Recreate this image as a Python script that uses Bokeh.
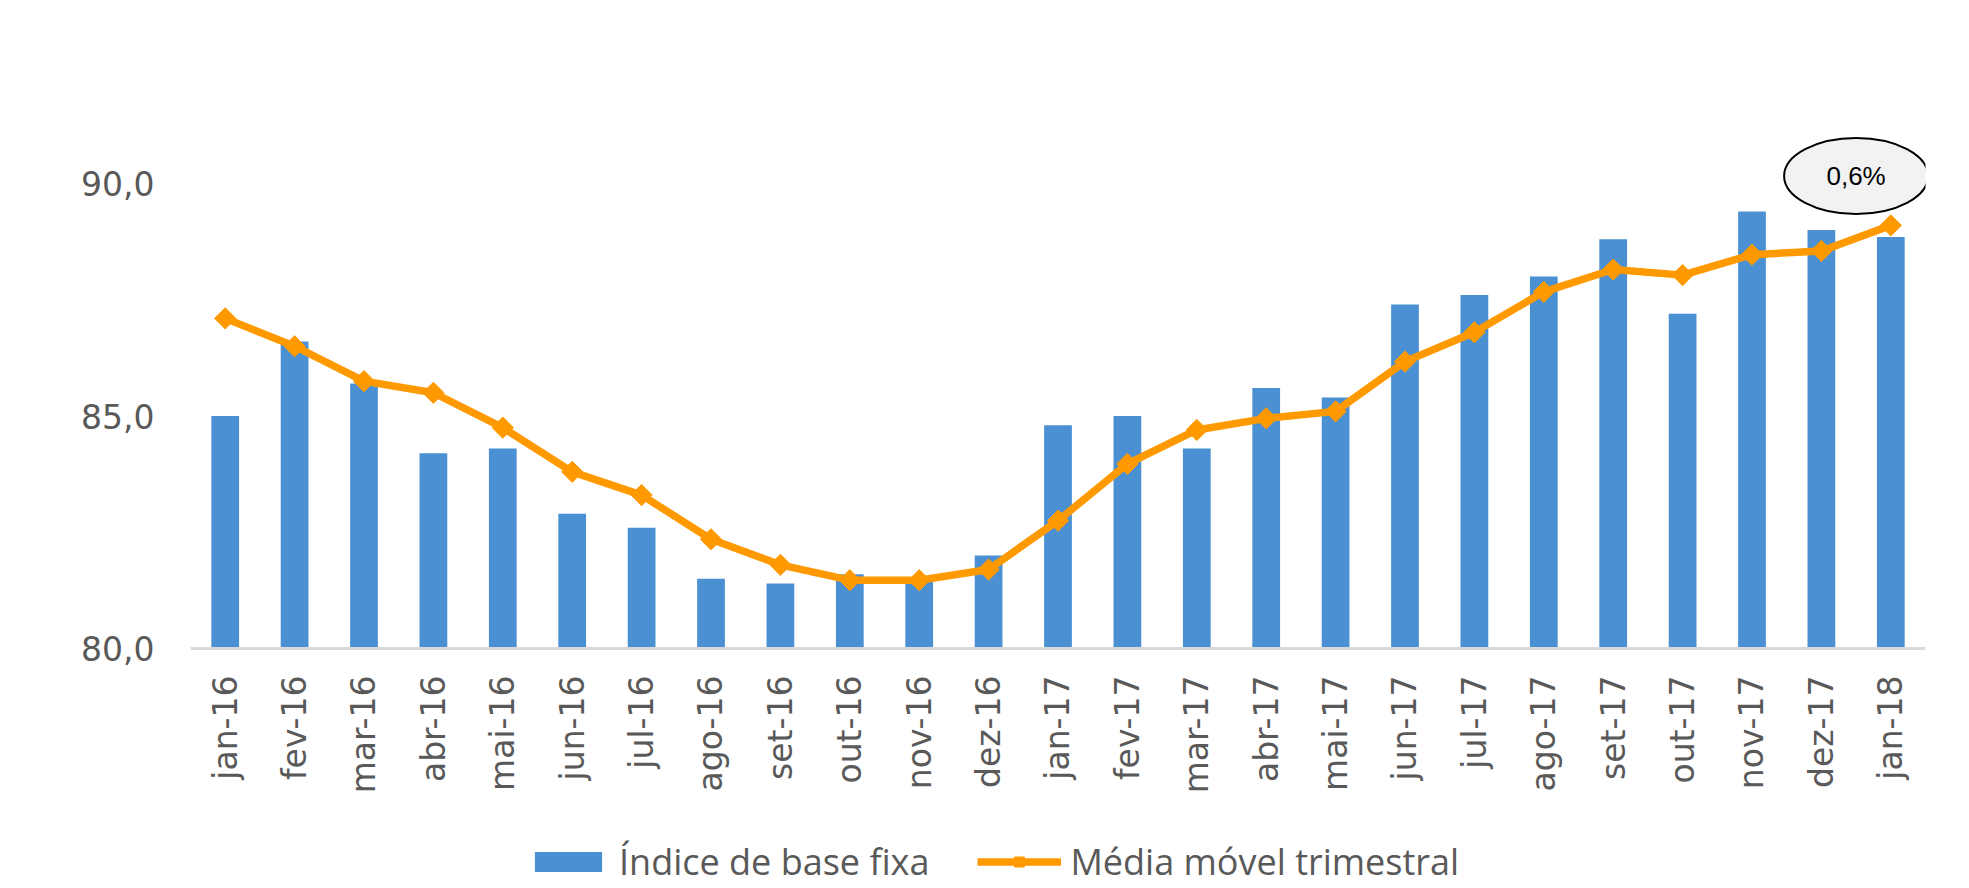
import numpy as np
from bokeh.plotting import figure
from bokeh.models import Range1d, FixedTicker, Legend, LegendItem
from bokeh.embed import file_html
from bokeh.resources import INLINE
from bokeh.core.properties import value

months = ["jan-16", "fev-16", "mar-16", "abr-16", "mai-16", "jun-16", "jul-16",
          "ago-16", "set-16", "out-16", "nov-16", "dez-16", "jan-17", "fev-17",
          "mar-17", "abr-17", "mai-17", "jun-17", "jul-17", "ago-17", "set-17",
          "out-17", "nov-17", "dez-17", "jan-18"]
index_values = [85.0, 86.6, 85.7, 84.2, 84.3, 82.9, 82.6, 81.5, 81.4, 81.6,
                81.5, 82.0, 84.8, 85.0, 84.3, 85.6, 85.4, 87.4, 87.6, 88.0,
                88.8, 87.2, 89.4, 89.0, 88.85]
moving_avg = [87.1, 86.5, 85.75, 85.5, 84.75, 83.8, 83.3, 82.35, 81.8, 81.47,
              81.47, 81.7, 82.75, 83.97, 84.7, 84.95, 85.1, 86.17, 86.8, 87.67,
              88.15, 88.03, 88.47, 88.55, 89.1]
y_ticks = [80, 85, 90]
y_tick_labels = ["80,0", "85,0", "90,0"]
series_names = ["Índice de base fixa", "Média móvel trimestral"]
bubble_text = "0,6%"
bubble_x = 24.0
bubble_y = 90.16
baseline = 80

x = np.arange(len(months)) + 0.5

p = figure(width=1969, height=888, output_backend="svg", toolbar_location=None,
           x_range=Range1d(0, len(months)), y_range=Range1d(74.84, 92),
           min_border_left=190, min_border_right=44, min_border_top=90,
           min_border_bottom=0)
p.outline_line_color = None
p.xgrid.visible = False
p.ygrid.visible = False
p.background_fill_color = "white"
p.border_fill_color = "white"

# x axis, drawn at the 80 baseline
p.xaxis.fixed_location = baseline
p.xaxis.ticker = FixedTicker(ticks=[float(v) for v in x])
p.xaxis.major_label_overrides = {float(v): m for v, m in zip(x, months)}
p.xaxis.axis_line_color = "#d9d9d9"
p.xaxis.axis_line_width = 3
p.xaxis.major_tick_line_color = None
p.xaxis.minor_tick_line_color = None
p.xaxis.major_tick_out = 0
p.xaxis.major_tick_in = 0
p.xaxis.major_label_orientation = np.pi / 2
p.xaxis.major_label_standoff = 27
p.xaxis.major_label_text_font = "DejaVu Sans"
p.xaxis.major_label_text_font_size = "33px"
p.xaxis.major_label_text_color = "#595959"

# y axis
p.yaxis.ticker = FixedTicker(ticks=y_ticks)
p.yaxis.major_label_overrides = {t: l for t, l in zip(y_ticks, y_tick_labels)}
p.yaxis.axis_line_color = None
p.yaxis.major_tick_line_color = None
p.yaxis.minor_tick_line_color = None
p.yaxis.major_tick_out = 0
p.yaxis.major_tick_in = 0
p.yaxis.major_label_standoff = 36
p.yaxis.major_label_text_font = "DejaVu Sans"
p.yaxis.major_label_text_font_size = "33px"
p.yaxis.major_label_text_color = "#595959"

bars = p.vbar(x=x, top=index_values, bottom=baseline, width=0.4,
              fill_color="#4A90D2", line_color=None)
line = p.line(x, moving_avg, line_width=7.5, line_color="#FF9900")
marks = p.scatter(x, moving_avg, marker="square", angle=np.pi / 4, size=15,
                  fill_color="#FF9900", line_color="#FF9900")

p.ellipse(x=[bubble_x], y=[bubble_y], width=144, height=76,
          width_units="screen", height_units="screen",
          fill_color="#f2f2f2", line_color="black", line_width=2)
p.text(x=[bubble_x], y=[bubble_y], text=[bubble_text], text_align="center",
       text_baseline="middle", text_font=value("Liberation Sans"),
       text_font_size="26px", text_color="black")

legend = Legend(items=[LegendItem(label=series_names[0], renderers=[bars]),
                       LegendItem(label=series_names[1], renderers=[line, marks])],
                orientation="horizontal", location=(336, 2),
                glyph_width=84, glyph_height=25, label_standoff=9, spacing=48,
                padding=0, margin=0, border_line_color=None,
                background_fill_alpha=0,
                label_text_font="Open Sans", label_text_font_size="36px",
                label_text_color="#595959")
p.add_layout(legend)

open("out.html", "w").write(file_html(p, INLINE))
